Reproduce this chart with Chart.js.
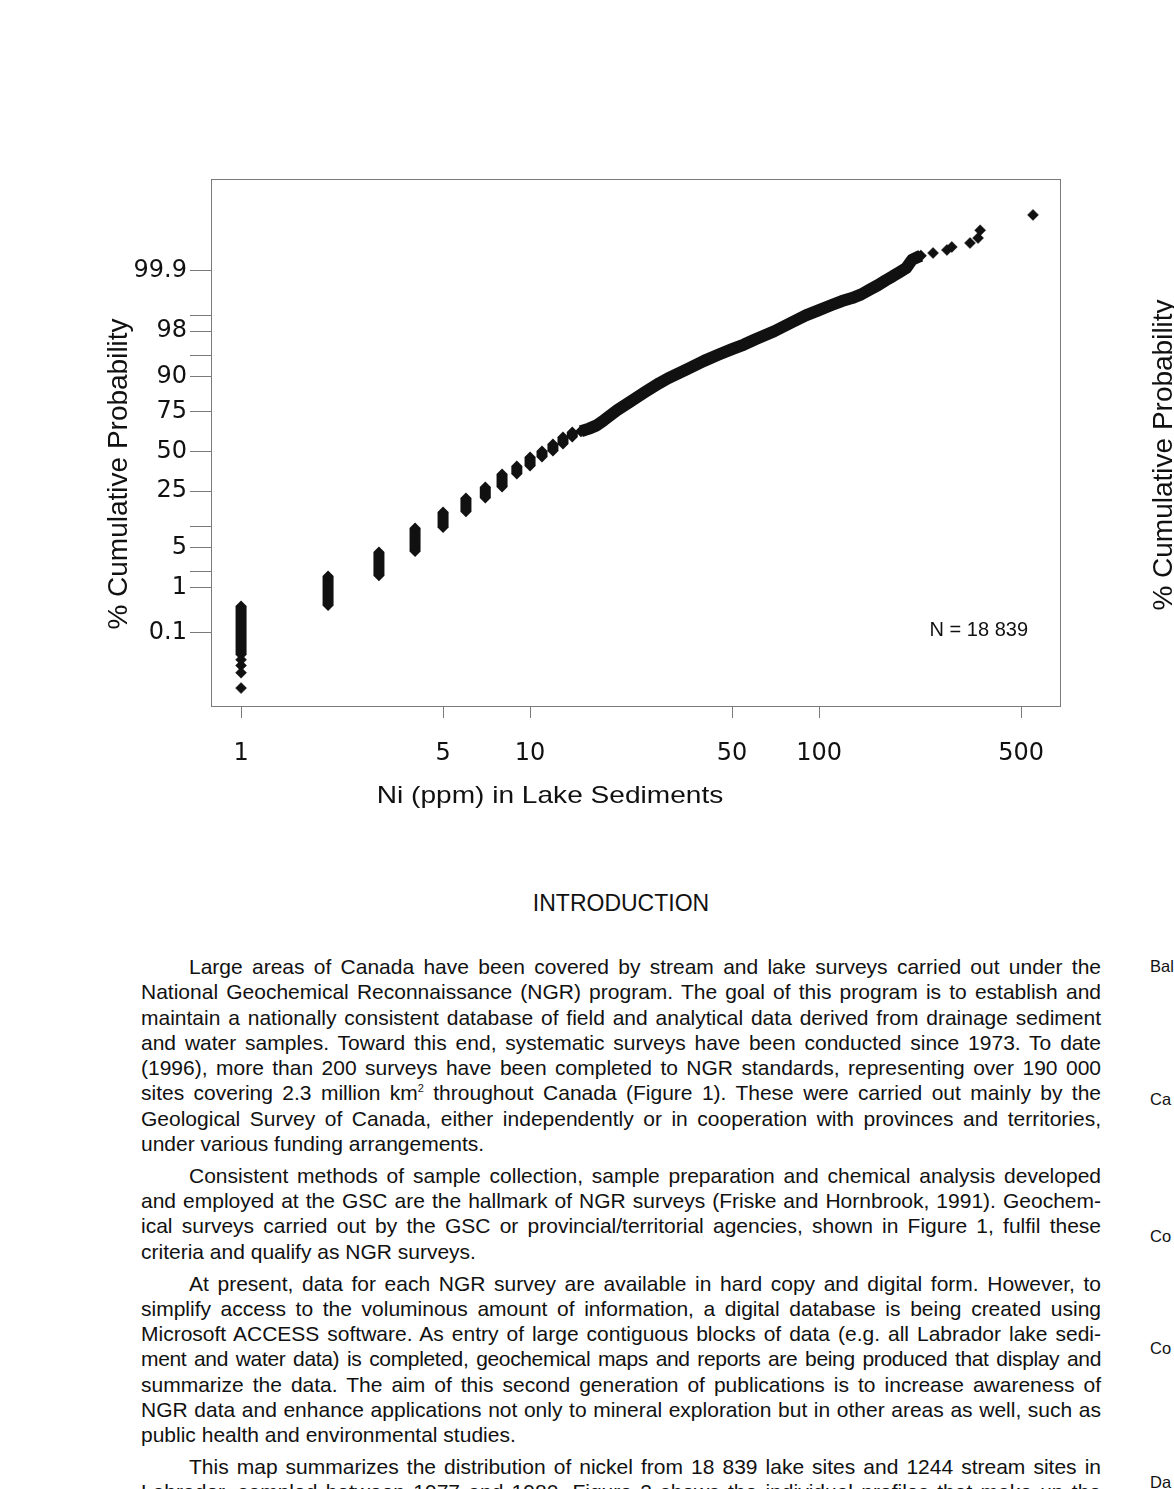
<!DOCTYPE html>
<html>
<head>
<meta charset="utf-8">
<script src="https://cdn.jsdelivr.net/npm/chart.js@4.4.0/dist/chart.umd.min.js"></script>
<style>
    html, body { margin: 0; padding: 0; background: #fff; }
    body {
        width: 1174px; height: 1489px; overflow: hidden; position: relative;
        font-family: "Liberation Sans", Arial, sans-serif; color: #111;
    }
    #intro { position: absolute; left: 421px; width: 400px; top: 890px; text-align: center; font-size: 23px; line-height: 26px; }
    #text { position: absolute; left: 141px; top: 954px; width: 960px; font-size: 21px; line-height: 25.3px; }
    .p { margin: 0 0 6.5px 0; }
    .l { text-align: justify; text-align-last: justify; }
    .l.tight { letter-spacing: -0.35px; word-spacing: -1.5px; }
    .p .l:first-child { text-indent: 48px; }
    .p .l.end { text-align-last: left; }
    sup { font-size: 11px; line-height: 0; vertical-align: 8px; }
    .side { position: absolute; left: 1150px; font-size: 16.5px; line-height: 25.3px; }
</style>
</head>
<body>
<canvas id="NiProbability" width="1174" height="860"></canvas>

<div id="intro">INTRODUCTION</div>

<div id="text">
    <div class="p">
        <div class="l">Large areas of Canada have been covered by stream and lake surveys carried out under the</div>
        <div class="l">National Geochemical Reconnaissance (NGR) program. The goal of this program is to establish and</div>
        <div class="l">maintain a nationally consistent database of field and analytical data derived from drainage sediment</div>
        <div class="l">and water samples. Toward this end, systematic surveys have been conducted since 1973. To date</div>
        <div class="l">(1996), more than 200 surveys have been completed to NGR standards, representing over 190 000</div>
        <div class="l">sites covering 2.3 million km<sup>2</sup> throughout Canada (Figure 1). These were carried out mainly by the</div>
        <div class="l">Geological Survey of Canada, either independently or in cooperation with provinces and territories,</div>
        <div class="l end">under various funding arrangements.</div>
    </div>
    <div class="p">
        <div class="l">Consistent methods of sample collection, sample preparation and chemical analysis developed</div>
        <div class="l">and employed at the GSC are the hallmark of NGR surveys (Friske and Hornbrook, 1991). Geochem-</div>
        <div class="l">ical surveys carried out by the GSC or provincial/territorial agencies, shown in Figure 1, fulfil these</div>
        <div class="l end">criteria and qualify as NGR surveys.</div>
    </div>
    <div class="p">
        <div class="l">At present, data for each NGR survey are available in hard copy and digital form. However, to</div>
        <div class="l">simplify access to the voluminous amount of information, a digital database is being created using</div>
        <div class="l">Microsoft ACCESS software. As entry of large contiguous blocks of data (e.g. all Labrador lake sedi-</div>
        <div class="l tight">ment and water data) is completed, geochemical maps and reports are being produced that display and</div>
        <div class="l">summarize the data. The aim of this second generation of publications is to increase awareness of</div>
        <div class="l">NGR data and enhance applications not only to mineral exploration but in other areas as well, such as</div>
        <div class="l end">public health and environmental studies.</div>
    </div>
    <div class="p">
        <div class="l">This map summarizes the distribution of nickel from 18 839 lake sites and 1244 stream sites in</div>
        <div class="l">Labrador, sampled between 1977 and 1980. Figure 2 shows the individual profiles that make up the</div>
    </div>
</div>

<div class="side" style="top:954px">Bal</div>
<div class="side" style="top:1087px">Ca</div>
<div class="side" style="top:1224px">Co</div>
<div class="side" style="top:1336px">Co</div>
<div class="side" style="top:1470px">Da</div>

<script>
// Ni (ppm) values that plot as separate vertical stacks, with the
// cumulative % at the bottom and top of each stack
var stackPpm = [1, 2, 3, 4, 5, 6, 7, 8, 9, 10, 11, 12, 13, 14];
var stackLow = [0.026, 0.43, 1.7, 4.4, 9.7, 15.2, 21.4, 27.2, 35.0, 40.2, 46.3, 50.3, 55.1, 59.8];
var stackHigh = [0.42, 1.68, 4.3, 9.6, 15.1, 21.4, 27.2, 35.0, 40.2, 46.3, 50.3, 55.1, 59.8, 63.0];

// continuous band above 15 ppm
var bandPpm = [15, 16, 17, 18, 20, 22, 25, 28, 30, 35, 40, 45, 50, 55, 60, 70, 80, 90, 100,
               110, 120, 130, 140, 150, 160, 170, 180, 190, 200, 210, 220, 225];
var bandPct = [63.5, 65.2, 67.2, 70.3, 75.9, 79.9, 84.5, 87.8, 89.4, 92.0, 93.9, 95.1, 95.96, 96.6, 97.2, 97.99, 98.60, 98.99, 99.21,
               99.37, 99.487, 99.558, 99.633, 99.715, 99.774, 99.825, 99.861, 99.890, 99.912, 99.947, 99.955, 99.958];

// single samples at both ends
var lowTailPpm = [1, 1, 1, 1];
var lowTailPct = [0.019, 0.013, 0.008, 0.0027];
var highTailPpm = [248, 277, 288, 333, 355, 361, 550];
var highTailPct = [99.9647, 99.9708, 99.9759, 99.9813, 99.9865, 99.9920, 99.9973];

// axis ticks
var niTicks = [1, 5, 10, 50, 100, 500];
var probTicks = [0.1, 1, 2, 5, 10, 25, 50, 75, 90, 95, 98, 99, 99.9];
var probLabels = ['0.1', '1', '', '5', '', '25', '50', '75', '90', '', '98', '', '99.9'];

var ink = '#111111';
var axisGray = '#7a7a7a';

// normal quantile (Acklam) - turns % into probability-paper position
function probit(pct) {
    var p = pct / 100;
    var a = [-3.969683028665376e+01, 2.209460984245205e+02, -2.759285104469687e+02, 1.383577518672690e+02, -3.066479806614716e+01, 2.506628277459239e+00];
    var b = [-5.447609879822406e+01, 1.615858368580409e+02, -1.556989798598866e+02, 6.680131188771972e+01, -1.328068155288572e+01];
    var c = [-7.784894002430293e-03, -3.223964580411365e-01, -2.400758277161838e+00, -2.549732539343734e+00, 4.374664141464968e+00, 2.938163982698783e+00];
    var d = [7.784695709041462e-03, 3.224671290700398e-01, 2.445134137142996e+00, 3.754408661907416e+00];
    var q, r;
    if (p < 0.02425) {
        q = Math.sqrt(-2 * Math.log(p));
        return (((((c[0] * q + c[1]) * q + c[2]) * q + c[3]) * q + c[4]) * q + c[5]) / ((((d[0] * q + d[1]) * q + d[2]) * q + d[3]) * q + 1);
    }
    if (p > 1 - 0.02425) {
        q = Math.sqrt(-2 * Math.log(1 - p));
        return -(((((c[0] * q + c[1]) * q + c[2]) * q + c[3]) * q + c[4]) * q + c[5]) / ((((d[0] * q + d[1]) * q + d[2]) * q + d[3]) * q + 1);
    }
    q = p - 0.5;
    r = q * q;
    return (((((a[0] * r + a[1]) * r + a[2]) * r + a[3]) * r + a[4]) * r + a[5]) * q / (((((b[0] * r + b[1]) * r + b[2]) * r + b[3]) * r + b[4]) * r + 1);
}

function points(ppm, pct) {
    return ppm.map(function (v, i) { return { x: v, y: probit(pct[i]) }; });
}

var datasets = [];

stackPpm.forEach(function (v, i) {
    datasets.push({
        data: [{ x: v, y: probit(stackLow[i]) }, { x: v, y: probit(stackHigh[i]) }],
        showLine: true,
        borderColor: ink,
        borderWidth: 11,
        borderCapStyle: 'butt',
        backgroundColor: ink,
        pointStyle: 'rectRot',
        pointRadius: 5.5,
        pointBorderWidth: 0
    });
});

datasets.push({
    data: points(bandPpm, bandPct),
    showLine: true,
    borderColor: ink,
    borderWidth: 12,
    borderJoinStyle: 'round',
    borderCapStyle: 'butt',
    backgroundColor: ink,
    pointStyle: 'rectRot',
    pointRadius: 6,
    pointBorderWidth: 0
});

datasets.push({
    data: points(lowTailPpm, lowTailPct).concat(points(highTailPpm, highTailPct)),
    showLine: false,
    backgroundColor: ink,
    borderColor: ink,
    pointStyle: 'rectRot',
    pointRadius: 5.5,
    pointBorderWidth: 0.5
});

// frame round the plot area
var framePlugin = {
    id: 'frame',
    beforeDatasetsDraw: function (chart) {
        var a = chart.chartArea;
        var ctx = chart.ctx;
        ctx.save();
        ctx.strokeStyle = axisGray;
        ctx.lineWidth = 1;
        ctx.strokeRect(a.left + 0.5, a.top + 0.5, a.right - a.left, a.bottom - a.top);
        ctx.restore();
    }
};

// axis titles and sample count
var textPlugin = {
    id: 'texts',
    afterDraw: function (chart) {
        var ctx = chart.ctx;
        var a = chart.chartArea;
        ctx.save();
        ctx.fillStyle = ink;

        // x title, a little wide like the scanned figure
        ctx.save();
        ctx.font = '24px "Liberation Sans", Arial, sans-serif';
        ctx.textAlign = 'center';
        ctx.textBaseline = 'alphabetic';
        ctx.translate(550, 803);
        ctx.scale(1.17, 1);
        ctx.fillText('Ni (ppm) in Lake Sediments', 0, 0);
        ctx.restore();

        // y title
        ctx.save();
        ctx.font = '28px "Liberation Sans", Arial, sans-serif';
        ctx.textAlign = 'center';
        ctx.textBaseline = 'alphabetic';
        ctx.translate(127, 474);
        ctx.rotate(-Math.PI / 2);
        ctx.fillText('% Cumulative Probability', 0, 0);
        ctx.restore();

        // title of the neighbouring figure, cut by the page edge
        ctx.save();
        ctx.font = '28px "Liberation Sans", Arial, sans-serif';
        ctx.textAlign = 'center';
        ctx.textBaseline = 'alphabetic';
        ctx.translate(1172, 455);
        ctx.rotate(-Math.PI / 2);
        ctx.fillText('% Cumulative Probability', 0, 0);
        ctx.restore();

        ctx.font = '20px "Liberation Sans", Arial, sans-serif';
        ctx.textAlign = 'right';
        ctx.textBaseline = 'alphabetic';
        ctx.fillText('N = 18 839', a.right - 32, 636);
        ctx.restore();
    }
};

var chart = new Chart(document.getElementById('NiProbability'), {
    type: 'scatter',
    data: { datasets: datasets },
    options: {
        responsive: false,
        animation: false,
        events: [],
        layout: {
            padding: { left: 111, top: 179, right: 114, bottom: 54 }
        },
        plugins: {
            legend: { display: false },
            tooltip: { enabled: false }
        },
        scales: {
            x: {
                type: 'logarithmic',
                min: 0.787,
                max: 682,
                afterFit: function (scale) { scale.height = 100; },
                afterBuildTicks: function (scale) {
                    scale.ticks = niTicks.map(function (v) { return { value: v }; });
                },
                ticks: {
                    autoSkip: false,
                    maxRotation: 0,
                    padding: 21,
                    color: ink,
                    font: { family: '"DejaVu Sans"', size: 24 },
                    callback: function (value) { return String(value); }
                },
                grid: {
                    drawOnChartArea: false,
                    tickLength: 12,
                    color: axisGray
                },
                border: { color: axisGray }
            },
            y: {
                type: 'linear',
                min: -4.343,
                max: 4.650,
                afterFit: function (scale) { scale.width = 100; },
                afterBuildTicks: function (scale) {
                    scale.ticks = probTicks.map(function (p) { return { value: probit(p) }; });
                },
                ticks: {
                    autoSkip: false,
                    padding: 3,
                    color: ink,
                    font: { family: '"DejaVu Sans"', size: 24 },
                    callback: function (value, index) { return probLabels[index]; }
                },
                grid: {
                    drawOnChartArea: false,
                    tickLength: 21,
                    color: axisGray
                },
                border: { color: axisGray }
            }
        }
    },
    plugins: [framePlugin, textPlugin]
});
</script>
</body>
</html>
